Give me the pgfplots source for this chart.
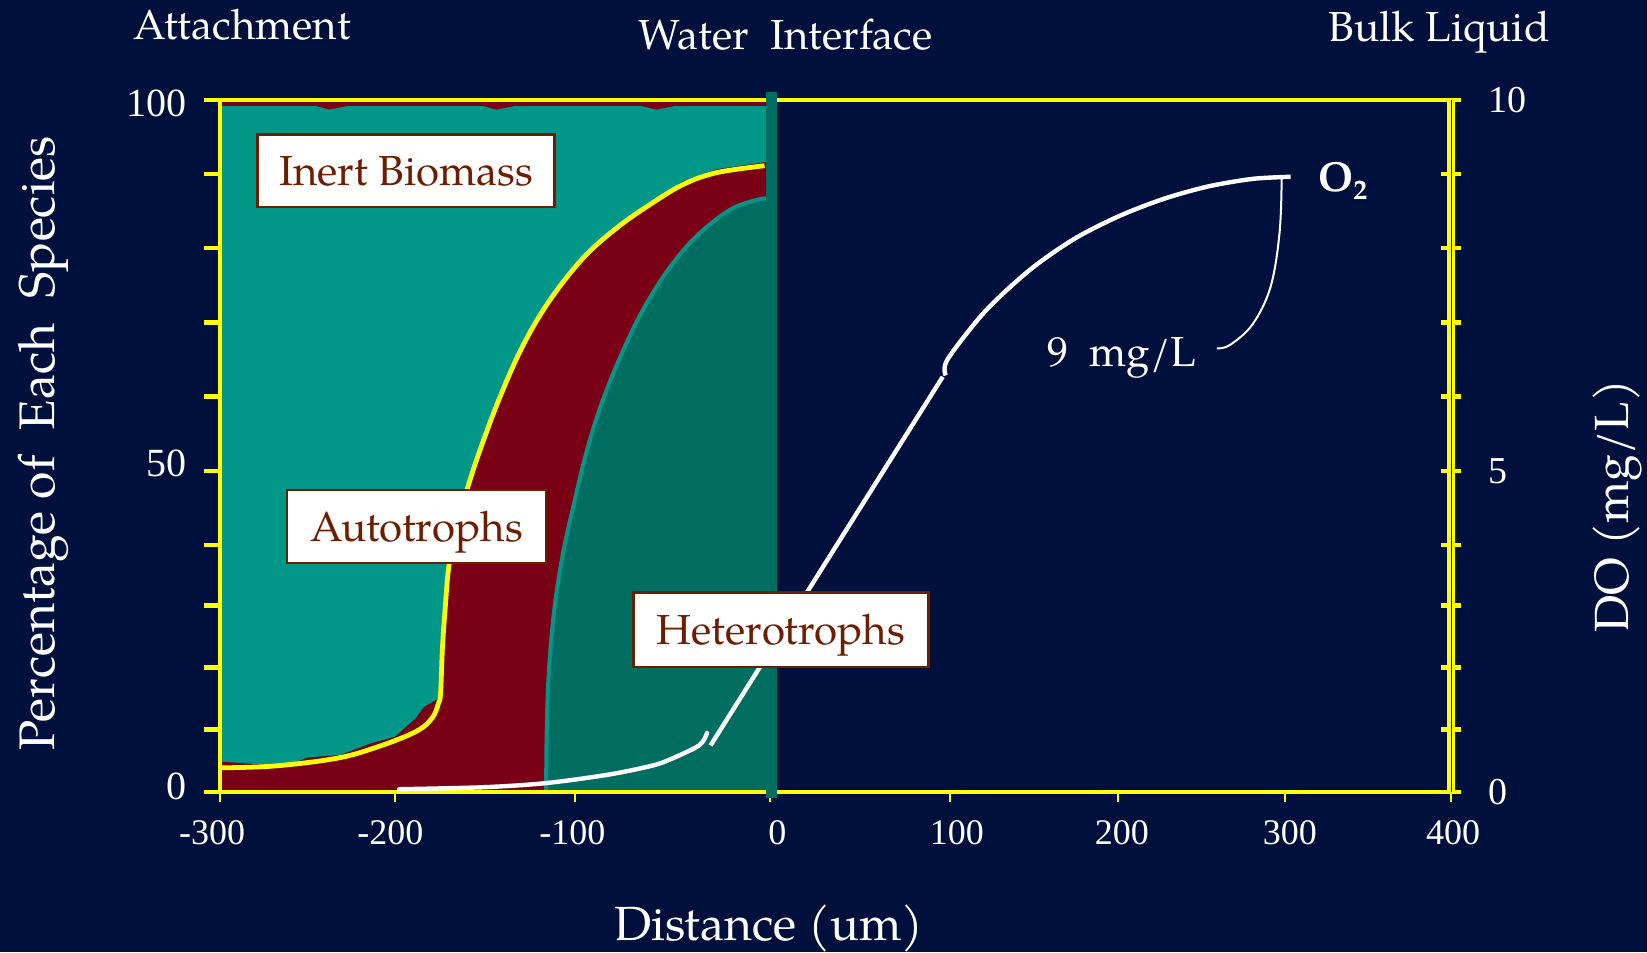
\documentclass[border=0pt]{standalone}
\usepackage{pgfplots}
\pgfplotsset{compat=1.18}
\usepackage{fontspec}
\setmainfont{TeX Gyre Pagella}
\newfontfamily\tickfont{Liberation Serif}
\definecolor{bg}{RGB}{0,16,60}
\definecolor{teala}{RGB}{0,151,136}
\definecolor{tealb}{RGB}{0,109,97}
\definecolor{dred}{RGB}{122,0,22}
\definecolor{boxbrown}{RGB}{110,30,0}
\definecolor{yel}{RGB}{255,255,0}
\newcommand{\fs}[1]{\fontsize{#1}{#1}\selectfont}
\newcommand{\lift}[2]{\raisebox{#1}[\height][\depth]{#2}}
\begin{document}
\begin{tikzpicture}[x=1pt,y=1pt]
\fill[bg] (0,0) rectangle (823.5,476);
% ---------- left axis: percentage of each species ----------
\begin{axis}[
  at={(110pt,80pt)}, anchor=south west,
  scale only axis, width=615.6pt, height=346pt,
  xmin=-300, xmax=400, ymin=0, ymax=100,
  axis on top,
  axis line style={yel, line width=2.3pt},
  xtick={-300,-200.7,-97.9,12.7,115.3,210.4,305.6,400},
  xticklabels={{-300\hspace*{7.8pt}},{-200\hspace*{4.2pt}},{-100\hspace*{3.2pt}},{\hspace*{7.4pt}0},{\hspace*{6.4pt}100},{\hspace*{4.2pt}200},{\hspace*{4.8pt}300},{\hspace*{2pt}400}},
  ytick={0,9.0,18.0,26.9,35.7,46.4,57.1,67.8,78.6,89.3,100},
  yticklabels={{\lift{2.6pt}{0}},{},{},{},{},{\lift{3.7pt}{50}},{},{},{},{},{\lift{-1.6pt}{100}}},
  xtick pos=left, ytick pos=left,
  tick align=outside,
  x tick style={yel, line width=1pt, /pgfplots/major tick length=5pt},
  y tick style={yel, line width=2.4pt, /pgfplots/major tick length=8pt},
  xticklabel style={font=\tickfont\fs{18}, text=white, yshift=-6.5pt},
  yticklabel style={font=\tickfont\fs{20}, text=white, xshift=-9pt},
  xlabel={Distance (um)},
  ylabel={Percentage of\ \ Each\ \ Species},
  every axis x label/.style={at={(axis description cs:0.446,0)}, yshift=-74pt, anchor=base, font=\fs{24}, text=white},
  every axis y label/.style={at={(axis description cs:0,0.504)}, xshift=-82.7pt, rotate=90, anchor=base, font=\fs{25}, text=white},
]
% autotroph layer (whole biofilm)
\addplot[fill=dred, draw=none] coordinates {(-300,0) (-300,100) (13.4,100) (13.4,0)} --cycle;
% inert biomass layer
\addplot[fill=teala, draw=none] coordinates {
 (-300,99.1) (-245,99.1) (-238,98.6) (-228,99.1) (-150,99.1) (-143,98.6) (-133,99.1)
 (-60,99.1) (-52,98.6) (-42,99.1) (13.4,99.1) (13.4,91.1) (9.6,91.0) (-17.6,90.0)
 (-36.6,88.3) (-55.5,85.3) (-74.5,81.6) (-93.4,77.2) (-112.4,71.1) (-127.6,64.6)
 (-140.8,57.1) (-152.2,49.4) (-159.7,43.6) (-165.5,38.5) (-169.9,32.6) (-171.9,26.8) (-173.5,21.0)
 (-173.8,14.0) (-176,13.5) (-184.1,12.3) (-188.8,10.65) (-200.6,8.0) (-214.7,7.0)
 (-231.8,5.35) (-250.1,5.0) (-264.2,3.6) (-277.3,4.0) (-300,4.4)} --cycle;
% heterotroph layer
\addplot[fill=tealb, draw=none] coordinates {
 (-114.5,0) (-114.4,6.5) (-113.3,16.2) (-110.2,25.8) (-105.0,34.5) (-98.0,42.5)
 (-93.0,47.8) (-85.8,54.1) (-76.4,60.5) (-64.0,67.5) (-53.0,72.5) (-41.3,76.8)
 (-27.1,80.8) (-8.2,84.4) (9.6,85.8) (13.4,86.0) (13.4,0)} --cycle;
\addplot[teala, line width=2pt, smooth, tension=0.6, line cap=round] coordinates {
 (-114.5,-0.5) (-114.4,6.5) (-113.3,16.2) (-110.2,25.8) (-105.0,34.5) (-98.0,42.5)
 (-93.0,47.8) (-85.8,54.1) (-76.4,60.5) (-64.0,67.5) (-53.0,72.5) (-41.3,76.8)
 (-27.1,80.8) (-8.2,84.4) (9.6,85.8)};
% autotroph / inert boundary
\addplot[yel, line width=2.4pt, smooth, tension=0.6] coordinates {
 (-299,3.5) (-269.0,3.76) (-233.7,4.87) (-210.1,6.55) (-188.8,8.71) (-179.5,10.65)
 (-175.8,12.8) (-174.6,14.3) (-173.5,21.0) (-171.9,26.8) (-169.9,32.6) (-165.5,38.5) (-159.7,43.6)
 (-152.2,49.4) (-140.8,57.1) (-127.6,64.6) (-112.4,71.1) (-93.4,77.2) (-74.5,81.5)
 (-55.5,84.9) (-36.6,87.8) (-17.6,89.5) (9.6,90.5)};
\end{axis}
% ---------- right axis: dissolved oxygen ----------
\begin{axis}[
  at={(110pt,80pt)}, anchor=south west,
  scale only axis, width=615.6pt, height=346pt,
  xmin=-300, xmax=400, ymin=0, ymax=10,
  clip=false,
  axis x line=none, axis y line*=right,
  every outer y axis line/.append style={-},
  y axis line style={-, yel, line width=1.8pt, double=bg, double distance=0.5pt},
  xtick=\empty,
  ytick={0,0.90,1.80,2.69,3.57,4.64,5.71,6.78,7.86,8.93,10},
  yticklabels={0,{},{},{},{},5,{},{},{},{},10},
  tick align=center,
  y tick style={yel, line width=2.4pt, /pgfplots/major tick length=10pt},
  yticklabel style={font=\tickfont\fs{19}, text=white, xshift=13pt},
  ylabel={DO (mg/L)},
  every axis y label/.style={at={(axis description cs:1,0.413)}, xshift=88.4pt, rotate=90, anchor=base, font=\fs{24}, text=white},
]
% water interface
\addplot[tealb, line width=5.3pt] coordinates {(13.4,-0.09) (13.4,10.12)};
% O2 profile
\addplot[white, line width=2.2pt, smooth, tension=0.5, line cap=round] coordinates {
 (-198.1,0.04) (-151.0,0.068) (-115.7,0.126) (-80.3,0.246) (-55.5,0.373)
 (-44.9,0.462) (-27.6,0.673) (-23.1,0.853)};
\addplot[white, line width=2.2pt] coordinates {(-21.1,0.673) (110.9,6.0)};
\addplot[white, line width=2.2pt, smooth, tension=0.5] coordinates {
 (112.6,6.02) (113.6,6.25) (134.8,6.94) (160.2,7.54) (185.5,7.99) (211.0,8.32)
 (236.4,8.57) (261.7,8.75) (287.1,8.86) (308.7,8.89)};
% pointer to 9 mg/L
\addplot[white, line width=1pt, smooth, tension=0.6] coordinates {
 (303.6,8.86) (302.4,8.08) (297.3,7.30) (287.1,6.76) (274.2,6.46) (266.8,6.41)};
\end{axis}
% ---------- labels ----------
\tikzset{lbl/.style={draw=boxbrown, line width=1.2pt, fill=white, text=boxbrown, inner sep=0pt,
  text height=14.5pt, text depth=0pt, font=\fs{21}}}
\node[lbl, minimum width=148.6pt, minimum height=36.3pt] at (203,390.6) {Inert Biomass};
\node[lbl, minimum width=129.6pt, minimum height=36.7pt] at (208.3,212.7) {Autotrophs};
\node[lbl, minimum width=147.5pt, minimum height=37.3pt] at (390.4,161) {Heterotrophs};
\node[anchor=base west, inner sep=0pt, text=white, font=\fs{21}] at (523.6,292.7) {9\hspace{0.5em}mg/L};
\node[anchor=base west, inner sep=0pt, text=white, font=\bfseries\fs{21}] at (659,380.2) {O\raisebox{-4pt}{\fs{14}2}};
\node[anchor=base, inner sep=0pt, text=white, font=\fs{21}] at (121,456) {Attachment};
\node[anchor=base, inner sep=0pt, text=white, font=\fs{21}] at (392.8,451.3) {Water\ \ Interface};
\node[anchor=base, inner sep=0pt, text=white, font=\fs{21}] at (719.5,455) {Bulk Liquid};
\pgfresetboundingbox
\path[use as bounding box] (0,0) rectangle (823.5,476);
\end{tikzpicture}
\end{document}
